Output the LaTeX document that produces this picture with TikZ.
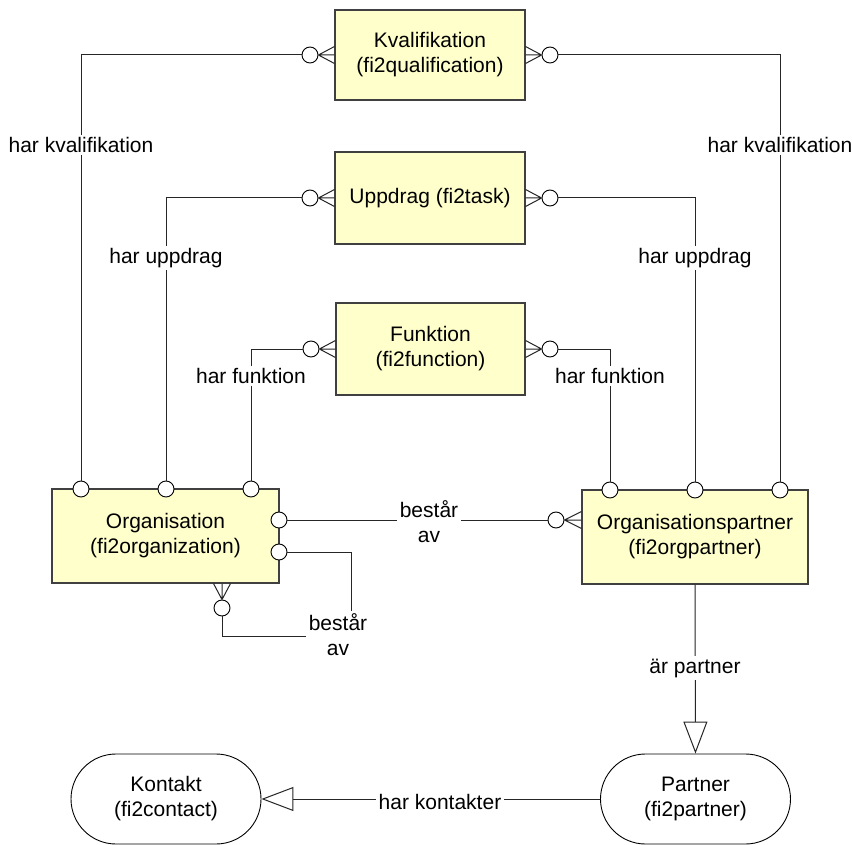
\documentclass[tikz,border=0pt]{standalone}
\usepackage{fontspec}
\setmainfont{Liberation Sans}
\usetikzlibrary{arrows.meta,calc,shapes.misc}
\definecolor{entfill}{HTML}{FFFFCC}
\definecolor{entline}{HTML}{404040}
% crow's foot: three prongs from a circle edge to an entity edge
\newcommand\crowsfoot[3]{\draw[conn] (#1) -- (#2) (#1) -- ($(#2)+(#3)$) (#1) -- ($(#2)-(#3)$);}

\begin{document}
\begin{tikzpicture}[x=1pt,y=-1pt,
  every node/.style={font=\fontsize{21}{25}\selectfont},
  entity/.style={rectangle, draw=entline, line width=1.1pt, fill=entfill,
    align=center, inner sep=0pt},
  supertype/.style={rounded rectangle, draw=black, line width=0.9pt, fill=white,
    align=center, minimum width=190pt, minimum height=90pt, inner sep=0pt},
  opt/.style={circle, draw=black, line width=0.9pt, fill=white,
    minimum size=16pt, inner sep=0pt},
  conn/.style={draw=black!85, line width=1pt},
  lbl/.style={fill=white, align=center, inner sep=2.5pt},
  isa/.style={conn, -{Triangle[open, length=32pt, width=24pt]}}]

\useasboundingbox (0,0) rectangle (852,845);
\fill[white] (0,0) rectangle (852,845);

% entities
\node[entity, minimum width=190pt, minimum height=90pt] (kval) at (430,55) {Kvalifikation\\(fi2qualification)};
\node[entity, minimum width=190pt, minimum height=92pt] (task) at (430,198) {Uppdrag (fi2task)};
\node[entity, minimum width=189pt, minimum height=92pt] (func) at (430.5,349) {Funktion\\(fi2function)};
\node[entity, minimum width=227pt, minimum height=94pt] (org) at (165.5,536) {Organisation\\(fi2organization)};
\node[entity, minimum width=226pt, minimum height=94pt] (opart) at (695,537) {Organisationspartner\\(fi2orgpartner)};

% supertypes
\node[supertype] (partner) at (695.5,799) {Partner\\(fi2partner)};
\node[supertype] (contact) at (166,799) {Kontakt\\(fi2contact)};

% optionality circles
\node[opt] (kvl) at (310,55) {};
\node[opt] (kvr) at (550,55) {};
\node[opt] (tkl) at (310,198) {};
\node[opt] (tkr) at (550,198) {};
\node[opt] (fnl) at (311,349) {};
\node[opt] (fnr) at (550,349) {};
\node[opt] (og1) at (81,489) {};
\node[opt] (og2) at (166,489) {};
\node[opt] (og3) at (251,489) {};
\node[opt] (ogr1) at (279,520) {};
\node[opt] (ogr2) at (279,552) {};
\node[opt] (ogb) at (222,608) {};
\node[opt] (op1) at (610,490) {};
\node[opt] (op2) at (695,490) {};
\node[opt] (op3) at (780,490) {};
\node[opt] (opl) at (556,520) {};

% crow's feet
\coordinate (kvle) at (kvl -| kval.west);
\coordinate (kvre) at (kvr -| kval.east);
\coordinate (tkle) at (tkl -| task.west);
\coordinate (tkre) at (tkr -| task.east);
\coordinate (fnle) at (fnl -| func.west);
\coordinate (fnre) at (fnr -| func.east);
\coordinate (ogbe) at (ogb |- org.south);
\coordinate (ople) at (opl -| opart.west);
\crowsfoot{kvl.east}{kvle}{0,8.5}
\crowsfoot{kvr.west}{kvre}{0,8.5}
\crowsfoot{tkl.east}{tkle}{0,8.5}
\crowsfoot{tkr.west}{tkre}{0,8.5}
\crowsfoot{fnl.east}{fnle}{0,8.5}
\crowsfoot{fnr.west}{fnre}{0,8.5}
\crowsfoot{ogb.north}{ogbe}{8.5,0}
\crowsfoot{opl.east}{ople}{0,8.5}

% relationships
\draw[conn] (kvl.west) -| (og1.north);
\draw[conn] (kvr.east) -| (op3.north);
\draw[conn] (tkl.west) -| (og2.north);
\draw[conn] (tkr.east) -| (op2.north);
\draw[conn] (fnl.west) -| (og3.north);
\draw[conn] (fnr.east) -| (op1.north);
\draw[conn] (ogr1.east) -- (opl.west);
\coordinate (loop) at (351,636);
\draw[conn] (ogr2.east) -| (loop) -| (ogb.south);
\draw[isa] (opart.south) -- (partner.north);
\draw[isa] (partner.west) -- (contact.east);

% relationship labels
\node[lbl] (lkq1) at (81,145) {har kvalifikation};
\node[lbl] (lkq2) at (780,145) {har kvalifikation};
\node[lbl] (lup1) at (166,258) {har uppdrag};
\node[lbl] (lup2) at (695,258) {har uppdrag};
\node[lbl] (lfn1) at (251,376) {har funktion};
\node[lbl] (lfn2) at (610,376) {har funktion};
\node[lbl] (lba1) at (429,522) {består\\av};
\node[lbl] (lba2) at (338,635) {består\\av};
\node[lbl] (lpa) at (695,668) {är partner};
\node[lbl] (lkt) at (440,802) {har kontakter};
\end{tikzpicture}
\end{document}
